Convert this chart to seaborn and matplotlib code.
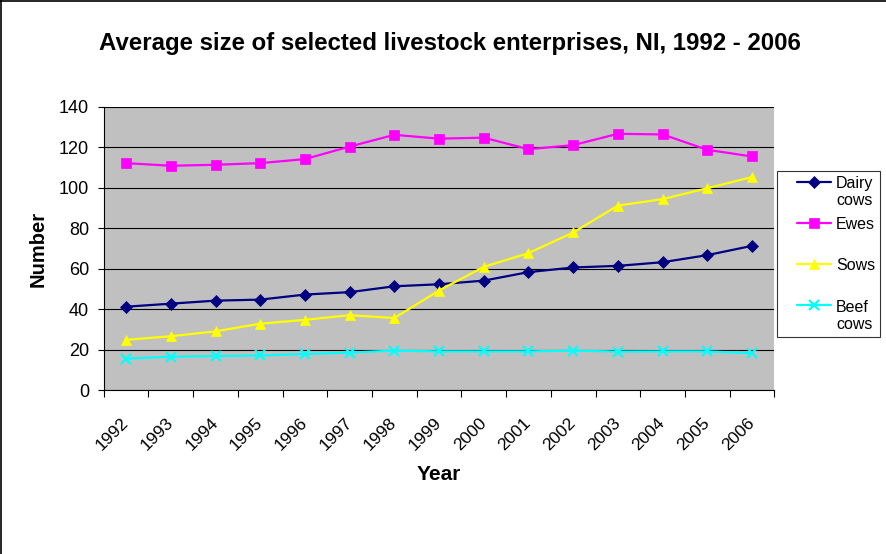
import matplotlib
matplotlib.use("Agg")
import matplotlib.pyplot as plt
import matplotlib.transforms as mtransforms
from matplotlib.lines import Line2D
from matplotlib.legend_handler import HandlerLine2D
import seaborn as sns
import pandas as pd

years = [str(y) for y in range(1992, 2007)]
dairy_cows = [41.2, 42.7, 44.2, 44.7, 47.2, 48.4, 51.3, 52.3, 54.1, 58.3, 60.6, 61.4, 63.2, 66.7, 71.3]
ewes = [112.2, 110.9, 111.4, 112.2, 114.2, 120.4, 126.2, 124.3, 124.8, 119.1, 121.1, 126.7, 126.4, 118.8, 115.5]
sows = [24.8, 26.6, 29.0, 32.8, 34.7, 37.0, 35.6, 49.2, 60.9, 67.7, 77.9, 91.2, 94.4, 99.8, 105.3]
beef_cows = [15.5, 16.5, 16.8, 17.1, 17.8, 18.5, 19.5, 19.1, 19.1, 19.1, 19.5, 19.0, 19.1, 19.1, 18.2]

series = [
    ("Dairy\ncows", dairy_cows, "#000080", "D", 6.5),
    ("Ewes\n ", ewes, "#FF00FF", "s", 7),
    ("Sows\n ", sows, "#FFFF00", "^", 7.5),
    ("Beef\ncows", beef_cows, "#00FFFF", "x", 7),
]

sns.set_style("white")
plt.rcParams["font.family"] = ["Liberation Sans", "DejaVu Sans"]
plt.rcParams["text.color"] = "black"
plt.rcParams["axes.labelcolor"] = "black"
plt.rcParams["xtick.color"] = "black"
plt.rcParams["ytick.color"] = "black"

fig = plt.figure(figsize=(8.87, 5.54), dpi=100)
# top and left border of the original chart area
fig.add_artist(Line2D([0, 1], [0.999, 0.999], color="black", linewidth=1.2, transform=fig.transFigure))
fig.add_artist(Line2D([0.001, 0.001], [0, 1], color="black", linewidth=1.2, transform=fig.transFigure))

ax = fig.add_axes([0.117, 0.296, 0.756, 0.511])
ax.set_facecolor("#C0C0C0")

xpos = list(range(len(years)))
for name, vals, color, marker, msize in series:
    df = pd.DataFrame({"x": xpos, "y": vals})
    sns.lineplot(data=df, x="x", y="y", ax=ax, color=color, marker=marker,
                 markersize=msize, markeredgecolor=color,
                 markeredgewidth=1.6 if marker == "x" else 0.5,
                 linewidth=1.6, label=name)

ax.set_xlim(-0.5, len(years) - 0.5)
ax.set_ylim(0, 140)
ax.set_yticks(range(0, 141, 20))
ax.yaxis.grid(True, color="black", linewidth=0.8)
ax.set_axisbelow(True)

ax.set_xticks([i - 0.5 for i in range(len(years) + 1)])
ax.set_xticklabels([])
ax.set_xticks(xpos, minor=True)
ax.set_xticklabels(years, minor=True, rotation=45, ha="right", va="center",
                   rotation_mode="anchor", fontsize=12.5)
offset = mtransforms.ScaledTranslation(-13 / 100, 0, fig.dpi_scale_trans)
for lbl in ax.get_xticklabels(minor=True):
    lbl.set_transform(lbl.get_transform() + offset)
ax.tick_params(axis="x", which="minor", length=0, pad=22)
ax.tick_params(axis="x", which="major", length=5, width=0.8, direction="out", bottom=True)
ax.tick_params(axis="y", length=4.5, width=0.8, direction="out", left=True, labelsize=13, pad=6)

for s in ["top", "right"]:
    ax.spines[s].set_visible(False)
for s in ["left", "bottom"]:
    ax.spines[s].set_color("black")
    ax.spines[s].set_linewidth(0.8)

ax.set_xlabel("Year", fontsize=15, fontweight="bold", labelpad=8)
ax.set_ylabel("Number", fontsize=14.5, fontweight="bold", labelpad=8)
fig.text(0.507, 0.922, "Average size of selected livestock enterprises, NI, 1992 - 2006",
         ha="center", va="center", fontsize=17.3, fontweight="bold")

leg = ax.legend(loc="upper left", bbox_to_anchor=(0.876, 0.691), bbox_transform=fig.transFigure,
                frameon=True, fancybox=False, edgecolor="black", fontsize=11.5,
                handlelength=3.1, labelspacing=0.55, borderpad=0.3, handletextpad=0.3,
                borderaxespad=0, handler_map={Line2D: HandlerLine2D(xpad=0.95)})
leg.get_frame().set_linewidth(0.8)
# keep each legend marker level with the first line of its label
for col in leg._legend_handle_box.get_children():
    for row in col.get_children():
        row.align = "top"

fig.savefig("out.png", dpi=100)
